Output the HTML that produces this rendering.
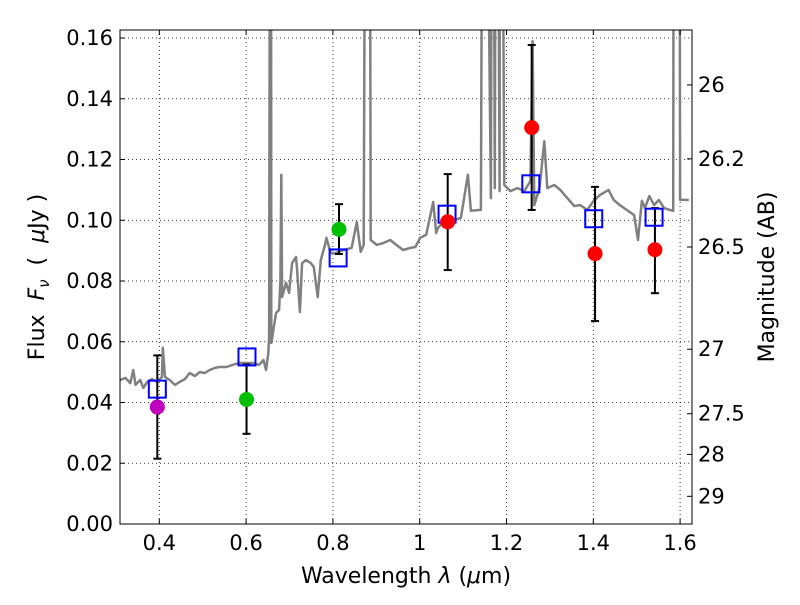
<!DOCTYPE html>
<html><head><meta charset="utf-8">
<style>
html,body{margin:0;padding:0;background:#fff;}
svg text{font-family:"DejaVu Sans","Liberation Sans",sans-serif;fill:#000;}
</style></head>
<body>
<svg id="chart" width="800" height="600" viewBox="0 0 800 600" xmlns="http://www.w3.org/2000/svg">
<g id="grid"></g>
<g id="spec"></g>
<g id="errs"></g>
<g id="models"></g>
<g id="obs"></g>
<rect x="120" y="30" width="572" height="494" fill="none" stroke="#000" stroke-width="1"/>
<g id="axes"></g>
<text x="406" y="583" font-size="22" text-anchor="middle">Wavelength  <tspan font-style="italic">λ</tspan> (<tspan font-style="italic">μ</tspan>m)</text>
<text transform="translate(44,277) rotate(-90)" font-size="22" text-anchor="middle" xml:space="preserve">Flux  <tspan font-style="italic">F</tspan><tspan font-style="italic" font-size="15" dy="5">ν</tspan><tspan dy="-5">  (  </tspan><tspan font-style="italic">μ</tspan>Jy )</text>
<text transform="translate(774,277) rotate(-90)" font-size="22" text-anchor="middle">Magnitude (AB)</text>
</svg>
<script>
const xTicks=[0.4,0.6,0.8,1.0,1.2,1.4,1.6];
const xTickLabels=["0.4","0.6","0.8","1","1.2","1.4","1.6"];
const yTicks=[0,0.02,0.04,0.06,0.08,0.10,0.12,0.14,0.16];
const yTickLabels=["0.00","0.02","0.04","0.06","0.08","0.10","0.12","0.14","0.16"];
const magTicks=[26,26.2,26.5,27,27.5,28,29];
const magTickLabels=["26","26.2","26.5","27","27.5","28","29"];
const specWave=[0.310,0.322,0.333,0.340,0.345,0.356,0.363,0.372,0.383,0.395,0.406,0.408,0.413,0.424,0.436,0.447,0.459,0.470,0.482,0.493,0.505,0.516,0.528,0.539,0.555,0.569,0.585,0.601,0.614,0.630,0.640,0.646,0.651,0.653,0.656,0.657,0.658,0.669,0.676,0.679,0.681,0.683,0.692,0.699,0.706,0.715,0.717,0.724,0.729,0.738,0.749,0.756,0.765,0.772,0.783,0.785,0.795,0.806,0.825,0.843,0.855,0.864,0.871,0.876,0.884,0.887,0.901,0.916,0.932,0.946,0.962,0.978,0.990,1.001,1.015,1.031,1.038,1.042,1.058,1.081,1.095,1.111,1.118,1.141,1.146,1.150,1.164,1.167,1.169,1.173,1.176,1.178,1.184,1.185,1.187,1.195,1.209,1.225,1.241,1.255,1.260,1.264,1.276,1.287,1.294,1.310,1.324,1.340,1.356,1.370,1.386,1.401,1.415,1.435,1.447,1.461,1.477,1.494,1.503,1.512,1.519,1.529,1.540,1.551,1.563,1.576,1.584,1.586,1.598,1.600,1.620];
const specFlux=[0.0474,0.0481,0.0464,0.0507,0.0458,0.0474,0.0448,0.0468,0.0477,0.0468,0.0484,0.058,0.0484,0.0474,0.0458,0.0468,0.0477,0.0497,0.0487,0.0500,0.0497,0.0507,0.0514,0.0517,0.0517,0.0524,0.0530,0.0530,0.0530,0.0524,0.0540,0.0507,0.0563,0.0616,0.3,0.3,0.0596,0.0695,0.0705,0.080,0.115,0.0747,0.0794,0.0761,0.0859,0.0879,0.0846,0.0698,0.0859,0.0869,0.0859,0.0846,0.0747,0.0869,0.0925,0.0942,0.0892,0.0892,0.0902,0.0909,0.0994,0.0896,0.0919,0.3,0.3,0.0935,0.0919,0.0925,0.0935,0.0919,0.0902,0.0909,0.0912,0.0942,0.0952,0.106,0.0958,0.0975,0.0998,0.1001,0.1008,0.115,0.1031,0.1034,0.3,0.3,0.1073,0.3,0.3,0.1106,0.3,0.3,0.1096,0.3,0.3,0.1116,0.1096,0.1106,0.1096,0.1129,0.159,0.105,0.1106,0.126,0.1106,0.1116,0.110,0.1073,0.1047,0.105,0.1034,0.1064,0.1083,0.110,0.1067,0.105,0.1034,0.1017,0.0935,0.1064,0.104,0.108,0.105,0.1067,0.104,0.1034,0.1031,0.3,0.3,0.1067,0.1067];
const obsWave=[0.3954,0.601,0.814,1.0645,1.258,1.404,1.542];
const obsFlux=[0.0385,0.041,0.097,0.0995,0.1305,0.089,0.0903];
const obsLo=[0.0215,0.0297,0.0889,0.0836,0.1034,0.0668,0.076];
const obsHi=[0.0555,0.0525,0.1053,0.1152,0.1577,0.111,0.104];
const obsColor=["#bf00bf","#00bf00","#00bf00","#ff0000","#ff0000","#ff0000","#ff0000"];
const modelWave=[0.3954,0.602,0.812,1.063,1.256,1.401,1.540];
const modelFlux=[0.0444,0.055,0.0876,0.102,0.112,0.1005,0.101];

const NS="http://www.w3.org/2000/svg";
const L=120,R=692,T=30,B=524,XMIN=0.3094,XMAX=1.6274,YMIN=0,YMAX=0.16264;
function sx(v){return L+(v-XMIN)/(XMAX-XMIN)*(R-L);}
function sy(v){return B-(v-YMIN)/(YMAX-YMIN)*(B-T);}
function mk(tag,attrs,parent){const e=document.createElementNS(NS,tag);for(const k in attrs)e.setAttribute(k,attrs[k]);parent.appendChild(e);return e;}
const grid=document.getElementById('grid'),axes=document.getElementById('axes');
xTicks.forEach((v,i)=>{
  const x=sx(v);
  const g=mk('line',{x1:x,x2:x,y1:T,y2:B,stroke:'#000','stroke-width':0.8,'stroke-dasharray':'1,3'},grid);
  
  mk('line',{x1:x,x2:x,y1:B,y2:B-5,stroke:'#000'},axes);
  mk('line',{x1:x,x2:x,y1:T,y2:T+5,stroke:'#000'},axes);
  const t=mk('text',{x:x,y:B+26,'font-size':21,'text-anchor':'middle'},axes);
  
  t.textContent=xTickLabels[i];
});
yTicks.forEach((v,i)=>{
  const y=sy(v);
  const g=mk('line',{x1:L,x2:R,y1:y,y2:y,stroke:'#000','stroke-width':0.8,'stroke-dasharray':'1,3'},grid);
  
  mk('line',{x1:L,x2:L+5,y1:y,y2:y,stroke:'#000'},axes);
  const t=mk('text',{x:L-7,y:y+7,'font-size':21,'text-anchor':'end'},axes);
  
  t.textContent=yTickLabels[i];
});
magTicks.forEach((m,i)=>{
  const f=Math.pow(10,(23.9-m)/2.5);const y=sy(f);
  mk('line',{x1:R,x2:R-5,y1:y,y2:y,stroke:'#000'},axes);
  const t=mk('text',{x:R+6,y:y+7,'font-size':21,'text-anchor':'start'},axes);
  
  t.textContent=magTickLabels[i];
});
const spec=document.getElementById('spec');
const clip=mk('clipPath',{id:'pc'},spec);mk('rect',{x:L,y:T,width:R-L,height:B-T},clip);
const pts=specWave.map((w,i)=>sx(w).toFixed(1)+','+sy(specFlux[i]).toFixed(1)).join(' ');
const pl=mk('polyline',{points:pts,fill:'none',stroke:'#808080','stroke-width':2.5,'stroke-linejoin':'round','clip-path':'url(#pc)'},spec);

const errs=document.getElementById('errs'),obs=document.getElementById('obs'),models=document.getElementById('models');
obsWave.forEach((w,i)=>{
  const x=sx(w);
  const e=mk('g',{stroke:'#000','stroke-width':2},errs);
  
  mk('line',{x1:x,x2:x,y1:sy(obsLo[i]),y2:sy(obsHi[i])},e);
  mk('line',{x1:x-4,x2:x+4,y1:sy(obsLo[i]),y2:sy(obsLo[i])},e);
  mk('line',{x1:x-4,x2:x+4,y1:sy(obsHi[i]),y2:sy(obsHi[i])},e);
  const c=mk('circle',{cx:x,cy:sy(obsFlux[i]),r:7.5,fill:obsColor[i]},obs);
  
});
modelWave.forEach((w,i)=>{
  const r=mk('rect',{x:sx(w)-8.5,y:sy(modelFlux[i])-8.5,width:17,height:17,fill:'none',stroke:'#0000ff','stroke-width':2},models);
  
});
</script>
</body></html>
